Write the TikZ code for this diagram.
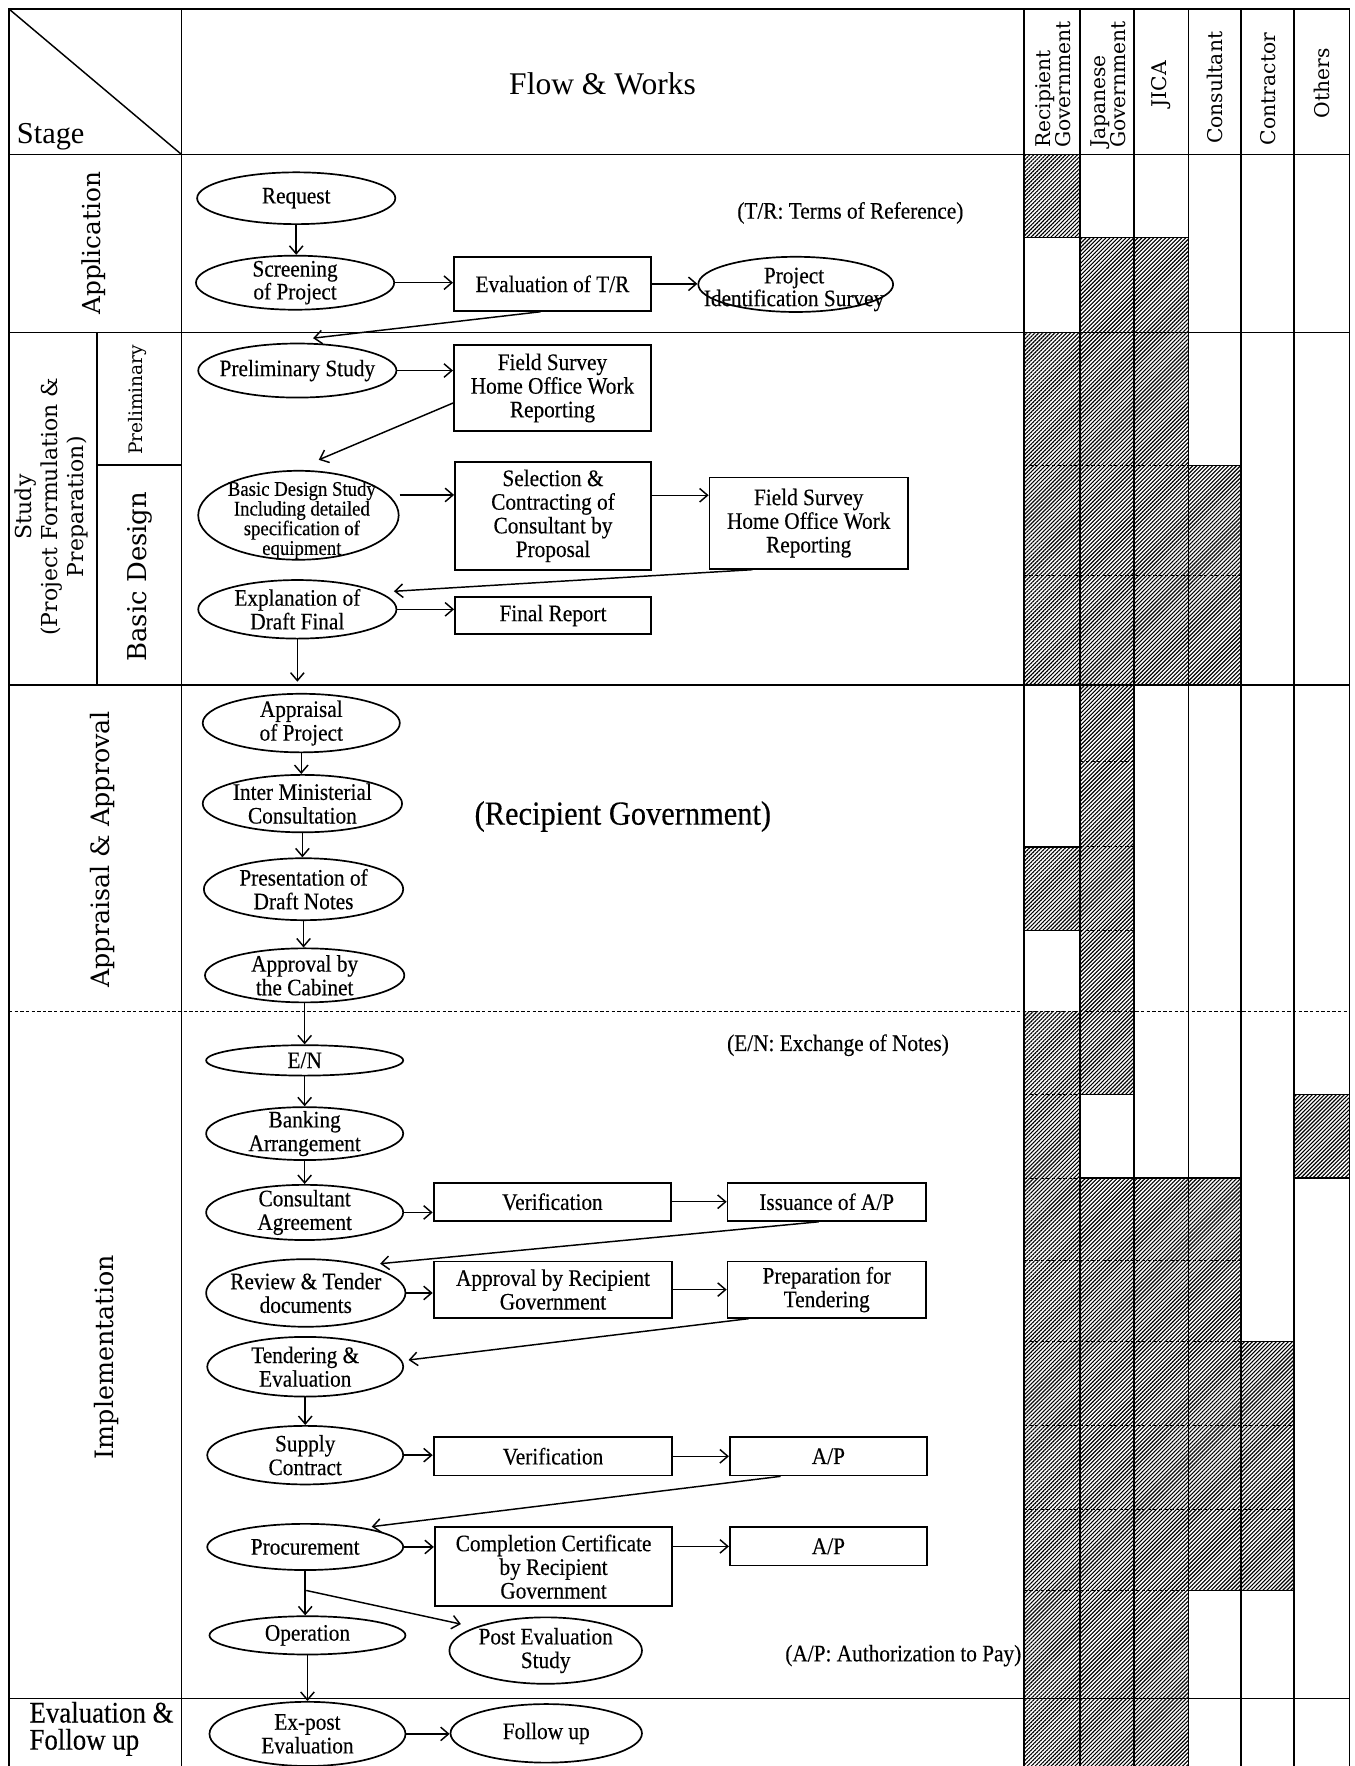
\documentclass[tikz,border=0pt]{standalone}
\usepackage{fontspec}
\setmainfont{Liberation Serif}
\newfontfamily\flowfont[FakeStretch=0.9,FakeBold=0.3]{Liberation Serif}
\newfontfamily\stagefont{DejaVu Serif}
\usetikzlibrary{shapes.geometric,arrows.meta,patterns.meta,calc}
\newcommand\ovn[5]{\node[oval,minimum width=#3pt,minimum height=#4pt] (#1) at (#2) {};\node[ftxt] (#1t) at (#1) {#5};}
\newcommand\bxn[5]{\node[wbox,minimum width=#3pt,minimum height=#4pt] (#1) at (#2) {};\node[ftxt] (#1t) at (#1) {#5};}
\begin{document}
\begin{tikzpicture}[x=1pt,y=-1pt,
 oval/.style={ellipse,draw,line width=1.5pt,inner sep=0pt},
 wbox/.style={rectangle,draw,line width=1.6pt,inner sep=0pt},
 ftxt/.style={font=\flowfont\fontsize{21}{21}\selectfont,align=center,inner sep=0pt},
 arr/.style={line width=1.3pt,-{Straight Barb[length=7pt,width=12pt,line width=1.3pt]}},
 hatch/.style={pattern={Lines[angle=45,distance=2.5pt,line width=1pt]}},
 tline/.style={line width=1.3pt},
 dline/.style={line width=0.9pt,dash pattern=on 3pt off 2pt},
 sline/.style={line width=1.1pt},
 stage/.style={font=\stagefont\fontsize{23}{23}\selectfont,rotate=90,align=center,inner sep=0pt},
 colhead/.style={font=\stagefont\fontsize{18}{17}\selectfont,rotate=90,align=left,inner sep=0pt},
 note/.style={font=\flowfont\fontsize{21}{21}\selectfont,inner sep=0pt},
]
\useasboundingbox (0,0) rectangle (1203,1568);
\fill[white] (0,0) rectangle (1203,1568);
% ---------- hatched cells ----------
\path[hatch] (909,137) rectangle (959,211);
\path[hatch] (909,295) rectangle (959,608);
\path[hatch] (909,752) rectangle (959,826);
\path[hatch] (909,898) rectangle (959,1568);
\path[hatch] (959,211) rectangle (1007,972);
\path[hatch] (959,1046) rectangle (1007,1568);
\path[hatch] (1007,211) rectangle (1055,608);
\path[hatch] (1007,1046) rectangle (1055,1568);
\path[hatch] (1055,413) rectangle (1102,608);
\path[hatch] (1055,1046) rectangle (1102,1412);
\path[hatch] (1102,1191) rectangle (1149,1412);
\path[hatch] (1149,972) rectangle (1198,1046);
% ---------- table frame ----------
\draw[tline] (8,1568) -- (8,8) -- (1198,8) -- (1198,1568);
\draw[tline] (8,137) -- (1198,137);
\draw[tline] (8,295) -- (1198,295);
\draw[tline] (8,608) -- (1198,608);
\draw[tline] (8,1508) -- (1198,1508);
\draw[dline] (8,898) -- (1198,898);
\draw[tline] (8,8) -- (161,137);
\draw[tline] (161,8) -- (161,1568);
\draw[tline] (86,295) -- (86,608);
\draw[tline] (86,413) -- (161,413);
\foreach \xx in {909,959,1007,1055,1102,1149}{\draw[tline] (\xx,8) -- (\xx,1568);}
% row lines in the responsibility columns
\draw[sline] (909,211) -- (1055,211);
\draw[dline] (909,413) -- (1055,413); \draw[sline] (1055,413) -- (1102,413);
\draw[dline] (909,511) -- (1102,511);
\draw[dline] (959,676) -- (1007,676);
\draw[sline] (909,752) -- (959,752); \draw[dline] (959,752) -- (1007,752);
\draw[sline] (909,826) -- (959,826); \draw[dline] (959,826) -- (1007,826);
\draw[dline] (909,972) -- (959,972); \draw[sline] (959,972) -- (1007,972); \draw[sline] (1149,972) -- (1198,972);
\draw[dline] (909,1046) -- (959,1046); \draw[sline] (959,1046) -- (1102,1046); \draw[sline] (1149,1046) -- (1198,1046);
\draw[dline] (909,1119) -- (1102,1119);
\draw[dline] (909,1191) -- (1102,1191); \draw[sline] (1102,1191) -- (1149,1191);
\draw[dline] (909,1266) -- (1149,1266);
\draw[dline] (909,1340) -- (1149,1340);
\draw[dline] (909,1412) -- (1055,1412); \draw[sline] (1055,1412) -- (1149,1412);
% ---------- headers ----------
\node[font=\fontsize{27}{27}\selectfont,inner sep=0pt] (hstage) at (45,121) {Stage};
\node[font=\fontsize{28}{28}\selectfont,inner sep=0pt] (hflow) at (535,74) {Flow \& Works};
\node[colhead] (hrec) at (935,75) {Recipient\\Government};
\node[colhead] (hjap) at (984,75) {Japanese\\Government};
\node[colhead] (hjica) at (1031,75) {JICA};
\node[colhead] (hcons) at (1079,78) {Consultant};
\node[colhead] (hcontr) at (1126,79) {Contractor};
\node[colhead] (hoth) at (1174,74) {Others};
% ---------- stage labels ----------
\node[stage,font=\stagefont\fontsize{22}{22}\selectfont] (sapp) at (83,216) {Application};
\node[stage,font=\stagefont\fontsize{19.5}{23}\selectfont] (sstudy) at (46,450) {Study\\(Project Formulation \&\\Preparation)};
\node[stage,font=\stagefont\fontsize{16.5}{16.5}\selectfont] (sprel) at (122,355) {Preliminary};
\node[stage] (sbd) at (124,512) {Basic Design};
\node[stage,font=\stagefont\fontsize{22.5}{22.5}\selectfont] (sappr) at (91,754) {Appraisal \& Approval};
\node[stage,font=\stagefont\fontsize{22.5}{22.5}\selectfont] (simpl) at (95,1205) {Implementation};
\node[font=\flowfont\fontsize{26.5}{24}\selectfont,align=left,anchor=west,inner sep=0pt] (seval) at (26,1535) {Evaluation \&\\Follow up};
% ---------- Application ----------
\ovn{req}{263,176}{176}{46}{Request}
\node[oval,minimum width=176pt,minimum height=48pt] (scr) at (262,251) {};
\node[ftxt,font=\flowfont\fontsize{21}{17}\selectfont] (scrt) at (scr) {Screening\\of Project};
\bxn{evr}{490.5,252}{175}{48}{Evaluation of T/R}
\node[oval,minimum width=173pt,minimum height=49pt] (pis) at (706.5,252.5) {};
\node[ftxt,font=\flowfont\fontsize{21}{18}\selectfont] (pist) at (705,257) {Project\\Identification Survey};
\node[note] (trnote) at (755,189) {(T/R: Terms of Reference)};
% ---------- Study ----------
\ovn{ps}{264,329}{176}{48}{Preliminary Study}
\bxn{fs1}{490.5,344.5}{175}{77}{Field Survey\\Home Office Work\\Reporting}
\node[oval,minimum width=178pt,minimum height=79pt] (bds) at (265,457.5) {};
\node[ftxt,font=\flowfont\fontsize{18.5}{17.5}\selectfont] (bdst) at (268,462) {Basic Design Study\\Including detailed\\specification of\\equipment};
\bxn{sel}{491,458}{174}{96}{Selection \&\\Contracting of\\Consultant by\\Proposal}
\bxn{fs2}{718,464.5}{176}{81}{Field Survey\\Home Office Work\\Reporting}
\ovn{exp}{264,541}{176}{52}{Explanation of\\Draft Final}
\bxn{fr}{491,546.5}{174}{33}{Final Report}
% ---------- Appraisal ----------
\ovn{app}{267.5,642}{175}{52}{Appraisal\\of Project}
\ovn{imc}{268.5,713.5}{177}{51}{Inter Ministerial\\Consultation}
\ovn{pdn}{269.5,789.5}{177}{55}{Presentation of\\Draft Notes}
\ovn{abc}{270.5,866}{177}{48}{Approval by\\the Cabinet}
\node[note,font=\flowfont\fontsize{30}{30}\selectfont] (recgov) at (553,725) {(Recipient Government)};
% ---------- Implementation ----------
\ovn{en}{270.5,941.5}{175}{27}{E/N}
\node[note] (ennote) at (744,928) {(E/N: Exchange of Notes)};
\ovn{bank}{270.5,1006.5}{175}{47}{Banking\\Arrangement}
\ovn{ca}{270.5,1076.5}{175}{49}{Consultant\\Agreement}
\bxn{ver1}{490.5,1067}{211}{34}{Verification}
\bxn{iap}{734,1067}{176}{34}{Issuance of A/P}
\ovn{rev}{271.5,1148}{177}{60}{Review \& Tender\\documents}
\bxn{arg}{491,1145}{212}{50}{Approval by Recipient\\Government}
\bxn{pft}{734,1145}{176}{50}{Preparation for\\Tendering}
\ovn{te}{271,1213.5}{174}{53}{Tendering \&\\Evaluation}
\ovn{sc}{271,1292}{174}{52}{Supply\\Contract}
\bxn{ver2}{491,1293}{212}{34}{Verification}
\bxn{ap1}{735.5,1293}{175}{34}{A/P}
\ovn{proc}{271,1373.5}{174}{41}{Procurement}
\bxn{ccr}{491.5,1391}{211}{70}{Completion Certificate\\by Recipient\\Government}
\bxn{ap2}{735.5,1373}{175}{34}{A/P}
\ovn{op}{273,1452}{174}{34}{Operation}
\ovn{pes}{484.5,1465.5}{171}{59}{Post Evaluation\\Study}
\node[note] (apnote) at (802,1470) {(A/P: Authorization to Pay)};
% ---------- Evaluation ----------
\ovn{exq}{273,1539.5}{174}{57}{Ex-post\\Evaluation}
\ovn{fu}{485,1539}{170}{52}{Follow up}
% ---------- connectors ----------
\draw[arr] (req.south) -- (req.south |- scr.north);
\draw[arr] (scr.east) -- (scr.east -| evr.west);
\draw[arr] (evr.east) -- (evr.east -| pis.west);
\draw[arr] ($(evr.south west)!0.44!(evr.south east)$) -- ($(ps.north)+(14,-4)$);
\draw[arr] (ps.east) -- (ps.east -| fs1.west);
\draw[arr] ($(fs1.north west)!0.67!(fs1.south west)$) -- ($(bds.north)+(18,-9)$);
\coordinate (p1) at ($(sel.north west)!0.31!(sel.south west)$);
\draw[arr] (bds.east |- p1) -- (p1);
\coordinate (p2) at ($(fs2.north west)!0.2!(fs2.south west)$);
\draw[arr] (sel.east |- p2) -- (p2);
\draw[arr] ($(fs2.south west)!0.22!(fs2.south east)$) -- ($(exp.east)+(-3,-16)$);
\draw[arr] (exp.east) -- (exp.east -| fr.west);
\coordinate (t1) at ($(app.north)+(0,-10)$);
\draw[arr] (exp.south) -- (exp.south |- t1);
\draw[arr] (app.south) -- (app.south |- imc.north);
\draw[arr] (imc.south) -- (imc.south |- pdn.north);
\draw[arr] (pdn.south) -- (pdn.south |- abc.north);
\draw[arr] (abc.south) -- (abc.south |- en.north);
\draw[arr] (en.south) -- (en.south |- bank.north);
\draw[arr] (bank.south) -- (bank.south |- ca.north);
\draw[arr] (ca.east) -- (ca.east -| ver1.west);
\draw[arr] (ver1.east) -- (ver1.east -| iap.west);
\draw[arr] ($(iap.south west)!0.46!(iap.south east)$) -- ($(rev.center)+(66,-26)$);
\draw[arr] (rev.east) -- (rev.east -| arg.west);
\draw[arr] (arg.east) -- (arg.east -| pft.west);
\draw[arr] ($(pft.south west)!0.11!(pft.south east)$) -- ($(te.east)+(4,-6)$);
\draw[arr] (te.south) -- (te.south |- sc.north);
\draw[arr] (sc.east) -- (sc.east -| ver2.west);
\draw[arr] (ver2.east) -- (ver2.east -| ap1.west);
\draw[arr] ($(ap1.south west)!0.26!(ap1.south east)$) -- ($(proc.center)+(59,-18)$);
\draw[arr] (proc.east) -- (proc.east -| ccr.west);
\draw[arr] (ap2.west -| ccr.east) -- (ap2.west);
\draw[arr] (proc.south) -- (proc.south |- op.north);
\coordinate (br) at ($(proc.south)!0.44!(op.north)$);
\draw[arr] (br) -- ($(pes.west)+(11,-23.5)$);
\draw[arr] (op.south) -- (op.south |- exq.north);
\draw[arr] (exq.east) -- (exq.east -| fu.west);
\end{tikzpicture}
\end{document}
